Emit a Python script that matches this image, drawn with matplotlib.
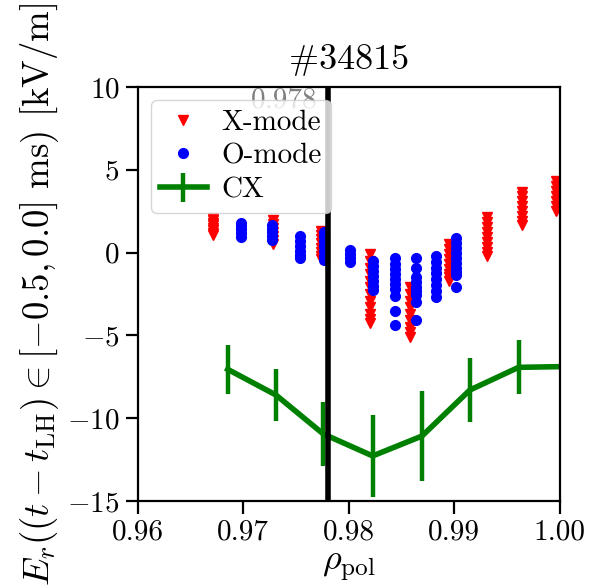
import numpy as np
import matplotlib
matplotlib.use('Agg')
import matplotlib.pyplot as plt

plt.rcParams['font.family'] = 'serif'
plt.rcParams['font.serif'] = ['cmr10']
plt.rcParams['mathtext.fontset'] = 'cm'
plt.rcParams['axes.formatter.use_mathtext'] = True

shot = '#34815'
rho_sep = 0.978

# X-mode reflectometry (red), one column per radial channel
x_rho = [0.9671, 0.9728, 0.9774, 0.9820, 0.9858, 0.9895, 0.9931, 0.9964, 0.9996]
x_er = [
    [2.1, 1.95, 1.8, 1.65, 1.5, 1.35, 1.2, 1.05],
    [1.95, 1.75, 1.5, 1.25, 1.0, 0.75, 0.5],
    [1.3, 1.05, 0.8, 0.55, 0.3, 0.05, -0.2, -0.4],
    [-0.1, -0.5, -0.9, -1.3, -1.7, -2.1, -2.5, -2.9, -3.3, -3.7, -4.0, -4.25],
    [-2.1, -2.5, -2.9, -3.3, -3.7, -4.1, -4.5, -4.8, -5.1],
    [0.5, 0.2, -0.1, -0.4, -0.7, -1.0, -1.3, -1.5, -1.7],
    [2.15, 1.85, 1.55, 1.25, 0.95, 0.65, 0.35, 0.05, -0.2],
    [3.65, 3.4, 3.1, 2.8, 2.5, 2.2, 1.9, 1.65],
    [4.3, 4.0, 3.7, 3.4, 3.1, 2.8, 2.5],
]

# O-mode reflectometry (blue)
o_rho = [0.9698, 0.9727, 0.9754, 0.9777, 0.9801, 0.9823, 0.9844, 0.9864, 0.9883, 0.9902]
o_er = [
    [1.8, 1.6, 1.4, 1.2, 0.95],
    [1.65, 1.45, 1.25, 1.0, 0.75],
    [1.0, 0.7, 0.4, 0.1, -0.15, -0.35],
    [1.25, 1.0, 0.7, 0.4, 0.1, -0.2, -0.45],
    [0.15, -0.1, -0.35, -0.55],
    [-0.5, -0.8, -1.1, -1.4, -1.7, -2.0, -2.25],
    [-0.35, -0.7, -1.0, -1.3, -1.6, -1.9, -2.2, -2.6, -3.55, -4.35],
    [-0.3, -0.95, -1.45, -1.75, -2.05, -2.3, -2.55, -3.0, -4.05],
    [-0.2, -0.55, -0.9, -1.25, -1.6, -1.95, -2.3, -2.7],
    [0.9, 0.6, 0.3, 0.0, -0.3, -0.6, -0.9, -1.2, -1.35, -2.05],
]

# CX recombination spectroscopy (green)
cx_rho = [0.96854, 0.97311, 0.97759, 0.98227, 0.98694, 0.99148, 0.99609, 1.0007]
cx_er = [-7.05, -8.6, -10.95, -12.28, -11.08, -8.3, -6.93, -6.88]
cx_err = [1.5, 1.6, 1.95, 2.5, 2.73, 1.94, 1.63, 1.6]

fig = plt.figure(figsize=(5.93, 5.88), dpi=100)
ax = fig.add_axes([0.232, 0.148, 0.712, 0.704])

xr = np.concatenate([[r] * len(v) for r, v in zip(x_rho, x_er)])
xv = np.concatenate(x_er)
ax.plot(xr, xv, 'v', color='red', ms=7, label='X-mode')

orr = np.concatenate([[r] * len(v) for r, v in zip(o_rho, o_er)])
ov = np.concatenate(o_er)
ax.plot(orr, ov, 'o', color='blue', ms=7, label='O-mode')

ax.errorbar(cx_rho, cx_er, yerr=cx_err, color='green', lw=4, elinewidth=3.2, capsize=0, label='CX')

ax.axvline(rho_sep, color='black', lw=4, zorder=3, clip_on=True)
ax.text(rho_sep - 0.001, 10, '%.3f' % rho_sep, color='gray', fontsize=21, ha='right', va='top')

ax.set_xlim(0.96, 1.0)
ax.set_ylim(-15, 10)
ax.set_xticks([0.96, 0.97, 0.98, 0.99, 1.0])
ax.set_yticks([-15, -10, -5, 0, 5, 10])
ax.xaxis.set_major_formatter(matplotlib.ticker.FormatStrFormatter('%.2f'))
ax.tick_params(labelsize=21, length=9, width=1.6, pad=4)
for s in ax.spines.values():
    s.set_linewidth(1.6)

ax.set_xlabel(r'$\rho_{\mathrm{pol}}$', fontsize=26)
ax.set_ylabel(r'$E_r((t-t_{\mathrm{LH}}) \in [-0.5, 0.0]\ \mathrm{ms})$ [kV/m]', fontsize=26.5)
ax.set_title(shot, fontsize=26, pad=13)
leg = ax.legend(loc='upper left', fontsize=21, numpoints=1, borderpad=0.32,
                labelspacing=0.25, handletextpad=0.5, handlelength=1.6,
                borderaxespad=0.45)
leg.set_zorder(5)

fig.savefig('out.png')
